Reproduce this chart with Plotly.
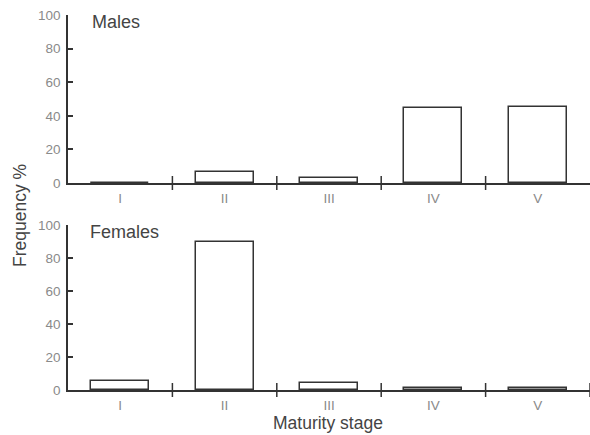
import plotly.graph_objects as go

# Maturity stages and frequency (%) for each sex
stages = ["I", "II", "III", "IV", "V"]
stage_pos = [1, 2, 3, 4, 5]
males = [0, 6.5, 3, 44.5, 45.5]
females = [5.6, 89.5, 4, 1.5, 1]
y_ticks = [0, 20, 40, 60, 80, 100]
separators_top = [1.5, 2.5, 3.5, 4.5]
separators_bottom = [1.5, 2.5, 3.5, 4.5, 5.5]

W, H = 590, 435
INK = "#333333"
GREY = "#8a8a8a"
FONT = "Liberation Sans, Arial, sans-serif"

fig = go.Figure()

bar_style = dict(marker=dict(color="white", line=dict(color=INK, width=1.5)),
                 width=0.555, showlegend=False, hoverinfo="skip")

fig.add_trace(go.Bar(x=stage_pos, y=males, xaxis="x", yaxis="y", **bar_style))
fig.add_trace(go.Bar(x=stage_pos, y=females, xaxis="x2", yaxis="y2", **bar_style))

sep_style = dict(mode="markers", showlegend=False, hoverinfo="skip", cliponaxis=False,
                 marker=dict(symbol="line-ns-open", size=10, color=INK,
                             line=dict(color=INK, width=1.5)))
fig.add_trace(go.Scatter(x=separators_top, y=[0] * len(separators_top),
                         xaxis="x", yaxis="y", **sep_style))
fig.add_trace(go.Scatter(x=separators_bottom, y=[0] * len(separators_bottom),
                         xaxis="x2", yaxis="y2", **sep_style))

x_dom = [68 / W, 1.0]
top_dom = [(H - 183) / H, (H - 15) / H]
bot_dom = [(H - 390) / H, (H - 225) / H]

xaxis_common = dict(range=[0.5, 5.5], domain=x_dom, showline=True, linecolor=INK,
                    linewidth=1.5, showgrid=False, zeroline=False, ticks="",
                    automargin=False,
                    tickvals=stage_pos, ticktext=stages, ticklabelstandoff=2,
                    tickfont=dict(family=FONT, size=13.5, color=GREY))
yaxis_common = dict(range=[0, 100], showline=True, linecolor=INK, linewidth=1.5,
                    showgrid=False, zeroline=False, ticks="inside", ticklen=5,
                    tickwidth=1.5, tickcolor=INK, tickvals=y_ticks,
                    automargin=False, ticklabelstandoff=3,
                    tickfont=dict(family=FONT, size=13.5, color=GREY))

fig.update_layout(
    width=W, height=H,
    margin=dict(l=0, r=0, t=0, b=0),
    paper_bgcolor="white", plot_bgcolor="white",
    bargap=0,
    xaxis=dict(anchor="y", **xaxis_common),
    yaxis=dict(anchor="x", domain=top_dom, **yaxis_common),
    xaxis2=dict(anchor="y2", **xaxis_common),
    yaxis2=dict(anchor="x2", domain=bot_dom, **yaxis_common),
    annotations=[
        dict(text="Males", x=90 / W, y=(H - 22) / H, xref="paper", yref="paper",
             xanchor="left", yanchor="middle", showarrow=False,
             font=dict(family=FONT, size=18, color="#444444")),
        dict(text="Females", x=88 / W, y=(H - 232) / H, xref="paper", yref="paper",
             xanchor="left", yanchor="middle", showarrow=False,
             font=dict(family=FONT, size=18, color="#444444")),
        dict(text="Frequency %", x=20 / W, y=(H - 216) / H, xref="paper", yref="paper",
             xanchor="center", yanchor="middle", textangle=-90, showarrow=False,
             font=dict(family=FONT, size=17.5, color="#444444")),
        dict(text="Maturity stage", x=328 / W, y=(H - 423) / H, xref="paper", yref="paper",
             xanchor="center", yanchor="middle", showarrow=False,
             font=dict(family=FONT, size=17.5, color="#444444")),
    ],
)

fig.write_html("out.html")
